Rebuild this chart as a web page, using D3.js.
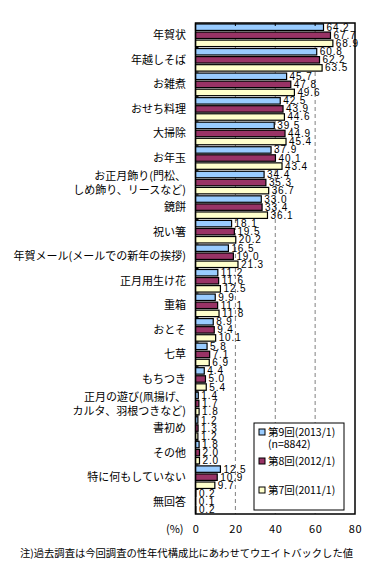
<!DOCTYPE html>
<meta charset="utf-8">
<style>
body { margin: 0; background: #fff; }
text { font-family: "Noto Sans CJK JP", "Liberation Sans", sans-serif; fill: #000; }
.grid line { stroke: #808080; stroke-dasharray: 4,3; }
.bar { stroke: #000; stroke-width: 1.2; }
.val { font-size: 10px; font-family: "Liberation Sans", sans-serif; }
.cat { font-size: 11px; }
</style>
<body></body>
<script src="https://d3js.org/d3.v7.min.js"></script>
<script>

// categories (top to bottom), two-line labels split with "|"
var categories = ["年賀状", "年越しそば", "お雑煮", "おせち料理", "大掃除", "お年玉",
  "お正月飾り(門松、|しめ飾り、リースなど)", "鏡餅", "祝い箸", "年賀メール(メールでの新年の挨拶)",
  "正月用生け花", "重箱", "おとそ", "七草", "もちつき", "正月の遊び(凧揚げ、|カルタ、羽根つきなど)",
  "書初め", "その他", "特に何もしていない", "無回答"];

var round9 = [64.2, 60.8, 45.7, 42.5, 39.5, 37.9, 34.4, 33.0, 18.1, 16.5, 11.2, 9.9, 8.9, 5.8, 4.4, 1.4, 1.2, 1.8, 12.5, 0.2];
var round8 = [67.7, 62.2, 47.8, 43.9, 44.9, 40.1, 35.3, 33.4, 19.5, 19.0, 11.6, 11.1, 9.4, 7.1, 5.0, 1.7, 1.3, 2.0, 10.9, 0.1];
var round7 = [68.9, 63.5, 49.6, 44.6, 45.4, 43.4, 36.7, 36.1, 20.2, 21.3, 12.5, 11.8, 10.1, 6.9, 5.4, 1.8, 1.2, 2.0, 9.7, 0.2];

var seriesNames = ["第9回(2013/1)", "第8回(2012/1)", "第7回(2011/1)"];
var seriesColors = ["#99ccff", "#993366", "#ffffcc"];
var xTicks = [0, 20, 40, 60, 80];
var note = "注)過去調査は今回調査の性年代構成比にあわせてウエイトバックした値";

var series = [round9, round8, round7];

var W = 387, H = 584;
var plot = {left: 195.5, right: 355, top: 23, bottom: 514};

var svg = d3.select("body").append("svg")
    .attr("width", W)
    .attr("height", H);

var x = d3.scaleLinear().domain([0, 80]).range([plot.left, plot.right]);
var y = d3.scaleBand().domain(categories).range([plot.top, plot.bottom])
    .paddingInner(0.08).paddingOuter(0.04);
var ys = d3.scaleBand().domain([0, 1, 2]).range([0, y.bandwidth()]).paddingInner(0.2);

// dashed gridlines
svg.append("g").attr("class", "grid")
  .selectAll("line")
  .data(xTicks.slice(1, -1))
  .enter().append("line")
    .attr("x1", function(d) { return x(d); })
    .attr("x2", function(d) { return x(d); })
    .attr("y1", plot.top)
    .attr("y2", plot.bottom);

// bars
categories.forEach(function(c, i) {
  var g = svg.append("g").attr("transform", "translate(0," + y(c) + ")");
  series.forEach(function(s, k) {
    g.append("rect")
      .attr("class", "bar")
      .attr("x", x(0))
      .attr("y", ys(k))
      .attr("width", x(s[i]) - x(0))
      .attr("height", ys.bandwidth())
      .attr("fill", seriesColors[k]);
    g.append("text")
      .attr("class", "val")
      .attr("x", x(s[i]) + 3)
      .attr("y", ys(k) + ys.bandwidth() / 2 + 3.5)
      .attr("letter-spacing", 0.9)
      .text(d3.format(".1f")(s[i]));
  });
});

// plot frame
svg.append("rect")
  .attr("x", plot.left).attr("y", plot.top)
  .attr("width", plot.right - plot.left)
  .attr("height", plot.bottom - plot.top)
  .attr("fill", "none").attr("stroke", "#000").attr("stroke-width", 1.5);

// small tick marks at top and at category boundaries
svg.append("g").selectAll("line")
  .data(xTicks.slice(1, -1))
  .enter().append("line")
    .attr("x1", function(d) { return x(d); })
    .attr("x2", function(d) { return x(d); })
    .attr("y1", plot.top).attr("y2", plot.top + 3)
    .attr("stroke", "#000");
svg.append("g").selectAll("line")
  .data(categories.slice(1))
  .enter().append("line")
    .attr("x1", plot.left).attr("x2", plot.left + 3)
    .attr("y1", function(d) { return y(d) - y.step() * y.paddingInner() / 2; })
    .attr("y2", function(d) { return y(d) - y.step() * y.paddingInner() / 2; })
    .attr("stroke", "#000");

// category labels
categories.forEach(function(c) {
  var lines = c.split("|");
  var cy = y(c) + y.bandwidth() / 2;
  lines.forEach(function(t, j) {
    svg.append("text")
      .attr("class", "cat")
      .attr("text-anchor", "end")
      .attr("x", 186)
      .attr("y", cy + 4 + (j - (lines.length - 1) / 2) * 14)
      .text(t);
  });
});

// x axis labels
var xAxis = d3.axisBottom(x).tickValues(xTicks).tickSize(0).tickPadding(0);
var ax = svg.append("g")
  .attr("transform", "translate(0," + (plot.bottom + 11) + ")")
  .call(xAxis);
ax.select(".domain").remove();
ax.selectAll("text").attr("font-size", 11).attr("font-family", "Liberation Sans, sans-serif")
  .attr("letter-spacing", 0.6);
svg.append("text")
  .attr("x", 166).attr("y", plot.bottom + 19)
  .attr("font-size", 11)
  .text("(%)");

// legend
var lg = svg.append("g");
lg.append("rect")
  .attr("x", 254).attr("y", 423).attr("width", 90).attr("height", 87)
  .attr("fill", "#fff").attr("stroke", "#000");
var legendY = [432, 461, 490];
seriesNames.forEach(function(n, k) {
  lg.append("rect")
    .attr("x", 259).attr("y", legendY[k] - 3).attr("width", 6).attr("height", 6)
    .attr("fill", seriesColors[k]).attr("stroke", "#000");
  lg.append("text")
    .attr("x", 268).attr("y", legendY[k] + 4)
    .attr("font-size", 10.5)
    .text(n);
});
lg.append("text")
  .attr("x", 268).attr("y", 448)
  .attr("font-size", 10.5)
  .text("(n=8842)");

// footnote
svg.append("text")
  .attr("x", 20).attr("y", 557)
  .attr("font-size", 10.3)
  .text(note);

</script>
